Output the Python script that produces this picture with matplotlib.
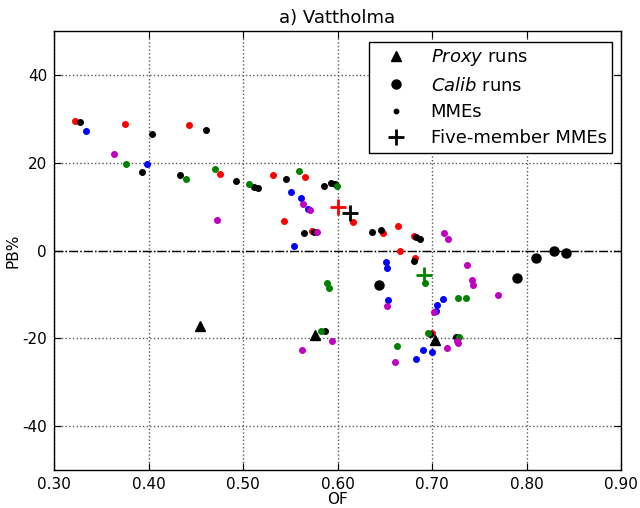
import matplotlib
matplotlib.use("Agg")
import matplotlib.pyplot as plt
from matplotlib.lines import Line2D

plt.rcParams['axes.unicode_minus'] = False

# MMEs by colour
red_of = [0.322, 0.375, 0.443, 0.476, 0.532, 0.566, 0.543, 0.573, 0.616, 0.648, 0.664, 0.681, 0.666, 0.682, 0.700]
red_pb = [29.6, 28.9, 28.6, 17.4, 17.3, 16.7, 6.7, 4.5, 6.4, 4.1, 5.7, 3.4, -0.1, -1.7, -18.9]

black_of = [0.328, 0.404, 0.461, 0.393, 0.433, 0.493, 0.512, 0.516, 0.545, 0.586, 0.593, 0.597,
            0.565, 0.575, 0.636, 0.646, 0.683, 0.687, 0.681, 0.698, 0.725, 0.587]
black_pb = [29.2, 26.6, 27.4, 17.8, 17.2, 15.9, 14.5, 14.2, 16.3, 14.8, 15.4, 15.1,
            4.0, 4.3, 4.3, 4.6, 3.0, 2.7, -2.3, -19.0, -19.7, -18.3]

blue_of = [0.334, 0.398, 0.551, 0.561, 0.569, 0.554, 0.651, 0.652, 0.653, 0.712, 0.705, 0.704, 0.690, 0.700, 0.683]
blue_pb = [27.3, 19.7, 13.4, 11.9, 9.4, 1.0, -2.5, -3.9, -11.3, -11.0, -12.3, -13.7, -22.7, -23.1, -24.8]

green_of = [0.376, 0.440, 0.470, 0.506, 0.559, 0.599, 0.589, 0.591, 0.693, 0.727, 0.736, 0.696, 0.728, 0.663, 0.583]
green_pb = [19.7, 16.3, 18.6, 15.2, 18.2, 14.8, -7.4, -8.5, -7.3, -10.8, -10.7, -18.7, -19.8, -21.7, -18.3]

mag_of = [0.363, 0.472, 0.563, 0.571, 0.578, 0.713, 0.717, 0.737, 0.742, 0.743, 0.770, 0.702,
          0.652, 0.726, 0.727, 0.716, 0.594, 0.562, 0.661]
mag_pb = [22.0, 6.9, 10.5, 9.2, 4.2, 4.0, 2.7, -3.3, -6.8, -7.9, -10.1, -14.0,
          -12.6, -20.5, -21.0, -22.2, -20.7, -22.7, -25.5]

calib_of = [0.644, 0.790, 0.810, 0.829, 0.842]
calib_pb = [-7.8, -6.2, -1.8, -0.2, -0.6]

proxy_of = [0.454, 0.576, 0.703]
proxy_pb = [-17.2, -19.3, -20.3]

five_of = [0.600, 0.613, 0.691]
five_pb = [9.9, 8.5, -5.6]
five_colors = ['red', 'black', 'green']

xticks = [0.30, 0.40, 0.50, 0.60, 0.70, 0.80, 0.90]
yticks = [-40, -20, 0, 20, 40]

fig = plt.figure(figsize=(6.4, 5.08), dpi=100)
ax = fig.add_axes([0.0844, 0.0748, 0.886, 0.864])

ax.axhline(0, color='black', linestyle='-.', linewidth=1.0, zorder=1)

ms = 4.0
for xs, ys, c in [(red_of, red_pb, 'red'), (black_of, black_pb, 'black'),
                  (blue_of, blue_pb, 'blue'), (green_of, green_pb, 'green'),
                  (mag_of, mag_pb, 'm')]:
    ax.plot(xs, ys, 'o', color=c, markersize=ms, markeredgecolor=c, zorder=3)

calib_ms = 6.5
proxy_ms = 6.5
plus_ms = 11
ax.plot(calib_of, calib_pb, 'o', color='black', markersize=calib_ms, zorder=4)
ax.plot(proxy_of, proxy_pb, '^', color='black', markersize=proxy_ms, zorder=4)
for x, y, c in zip(five_of, five_pb, five_colors):
    ax.plot([x], [y], '+', color=c, markersize=plus_ms, markeredgewidth=2.0, zorder=5)

ax.set_xlim(0.30, 0.90)
ax.set_ylim(-50, 50)
ax.set_xticks(xticks)
ax.set_xticklabels(['%.2f' % t for t in xticks])
ax.set_yticks(yticks)
ax.tick_params(direction='in', top=True, right=True, labelsize=11, length=5, pad=5)
ax.grid(True, linestyle=':', color='0.35', linewidth=1.0)
ax.set_axisbelow(True)
for s in ax.spines.values():
    s.set_linewidth(1.0)

ax.set_xlabel('OF', fontsize=11, labelpad=0)
ax.set_ylabel('PB%', fontsize=11, labelpad=1)
ax.set_title('a) Vattholma', fontsize=13, pad=6)

handles = [
    Line2D([], [], linestyle='none', marker='^', color='black', markersize=proxy_ms),
    Line2D([], [], linestyle='none', marker='o', color='black', markersize=calib_ms),
    Line2D([], [], linestyle='none', marker='o', color='black', markersize=3.2),
    Line2D([], [], linestyle='none', marker='+', color='black', markersize=plus_ms, markeredgewidth=2.0),
]
labels = [r'$Proxy$ runs', r'$Calib$ runs', 'MMEs', 'Five-member MMEs']
leg = ax.legend(handles, labels, loc='upper right', fontsize=13, fancybox=False,
                framealpha=1, edgecolor='black', borderpad=0.3, labelspacing=0.46,
                handletextpad=0.7, borderaxespad=0, handlelength=2.4,
                bbox_to_anchor=(0.9841, 0.975))
leg.get_frame().set_linewidth(1.0)

fig.savefig('out.png', dpi=100)
